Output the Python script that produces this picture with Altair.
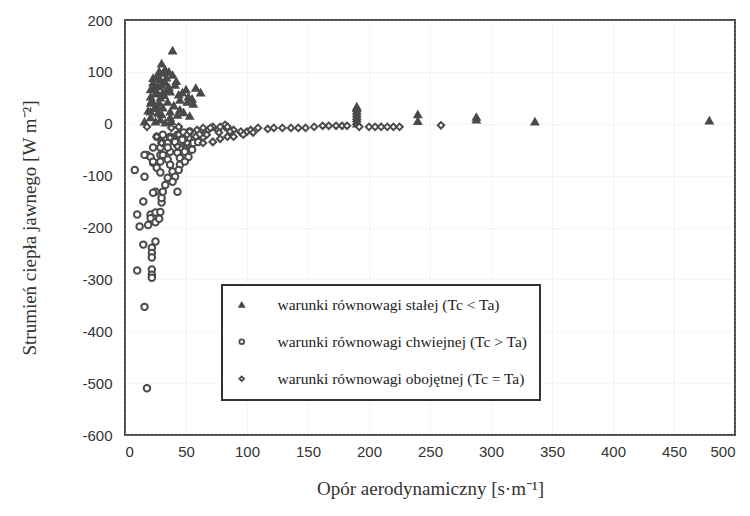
import altair as alt
import pandas as pd

# --- data (aerodynamic resistance [s/m], sensible heat flux [W/m2]) ---
stable_x = [39, 30, 28, 31, 39, 26, 29, 34, 23, 30, 41, 50, 58, 62, 21, 26, 31, 37, 44, 21,
            29, 35, 45, 51, 55, 21, 26, 31, 21, 27, 37, 45, 21, 29, 37, 43, 16, 25,
            24, 27, 33, 25, 32, 22, 28, 34, 36, 23, 33, 36, 42, 47, 52, 56, 40, 48, 53, 24, 30, 19, 33, 38,
            190, 190, 190, 190, 190, 190, 190, 190, 240, 240, 288, 288, 336, 479]
stable_y = [141, 116, 101, 98, 94, 91, 85, 89, 79, 75, 75, 66, 69, 60, 66, 62, 60, 62, 56, 52,
            50, 42, 46, 42, 48, 40, 33, 31, 23, 21, 23, 27, 12, 8, 12, 17, 4, 4,
            70, 72, 80, 58, 55, 45, 40, 65, 70, 88, 104, 100, 82, 60, 52, 38, 35, 22, 15, 30, 18, 25, 2, 5,
            0, 5, 10, 15, 20, 25, 30, 33, 18, 5, 8, 13, 4, 6]

unstable_x = [18, 29, 37, 23, 29, 8, 16, 25, 15, 30, 10, 21, 25, 29, 21, 25, 28, 12, 19, 15,
              25, 22, 22, 22, 10, 22, 22, 22, 16, 18,
              26, 31, 37, 43, 48, 53, 30, 35, 41, 47, 52, 23, 29, 35, 45, 51, 56, 60, 16, 21,
              31, 43, 49, 55, 23, 35, 45, 52, 26, 37, 45, 49, 29, 39, 44, 35, 41, 33, 39, 31,
              43, 30, 23]
unstable_y = [-60, -60, -54, -75, -73, -89, -102, -131, -150, -152, -175, -175, -171, -170, -182, -190, -183, -198, -195, -233,
              -227, -239, -249, -258, -283, -281, -291, -297, -353, -510,
              -25, -21, -25, -21, -17, -15, -35, -37, -35, -31, -27, -46, -46, -46, -46, -40, -37, -35, -60, -64,
              -60, -56, -54, -50, -73, -69, -66, -64, -85, -79, -79, -73, -94, -92, -89, -104, -102, -118, -112, -131,
              -131, -143, -133]

neutral_x = [18, 26, 30, 37, 44, 44, 51, 58, 63, 68, 76, 82, 89, 95, 100, 64, 72, 84, 51, 43,
             64, 72, 82, 67, 77, 86, 95, 103, 109, 117, 122, 129, 136, 142, 148, 162, 167, 173, 178, 182,
             64, 72, 78, 89, 97, 105, 38, 44, 53, 59, 70, 78, 84,
             155, 192, 200, 205, 210, 215, 220, 225, 259]
neutral_y = [-6, -25, -37, -27, -6, -21, -21, -25, -12, -12, -12, -6, -12, -17, -15, -27, -35, -25, -37, -44,
             -8, -6, -2, -21, -17, -15, -15, -12, -8, -10, -8, -8, -8, -8, -8, -4, -4, -4, -4, -4,
             -37, -35, -29, -25, -21, -17, -8, -6, -15, -12, -8, -6, -6,
             -6, -6, -6, -6, -6, -6, -6, -6, -3]

series_names = [
    "warunki równowagi stałej (Tc < Ta)",
    "warunki równowagi chwiejnej (Tc > Ta)",
    "warunki równowagi obojętnej (Tc = Ta)",
]

x_ticks = [0, 50, 100, 150, 200, 250, 300, 350, 400, 450, 500]
y_ticks = [-600, -500, -400, -300, -200, -100, 0, 100, 200]

rows = []
for name, xs, ys in [(series_names[0], stable_x, stable_y),
                     (series_names[1], unstable_x, unstable_y),
                     (series_names[2], neutral_x, neutral_y)]:
    for a, b in zip(xs, ys):
        rows.append({"opor": a, "strumien": b, "warunki": name})
df = pd.DataFrame(rows)

INK = "#4a4a4a"
TXT = "#333333"
LEG = alt.Legend(title=None, orient="none", legendX=97, legendY=265)
minus_expr = "datum.value < 0 ? '-' + abs(datum.value) : '' + datum.value"

chart = alt.Chart(df).mark_point(size=42, strokeWidth=2, opacity=1).encode(
    x=alt.X("opor:Q",
            scale=alt.Scale(domain=[0, 500], nice=False),
            axis=alt.Axis(values=x_ticks, title="Opór aerodynamiczny [s·m⁻¹]",
                          titlePadding=20, labelPadding=9)),
    y=alt.Y("strumien:Q",
            scale=alt.Scale(domain=[-600, 200], nice=False),
            axis=alt.Axis(values=y_ticks, title="Strumień ciepła jawnego [W m⁻²]",
                          titlePadding=42, labelPadding=13, labelExpr=minus_expr)),
    shape=alt.Shape("warunki:N",
                    scale=alt.Scale(domain=series_names, range=["triangle-up", "circle", "diamond"]),
                    legend=LEG),
    fill=alt.Fill("warunki:N",
                  scale=alt.Scale(domain=series_names, range=[INK, "white", "white"]),
                  legend=LEG),
    stroke=alt.Stroke("warunki:N",
                      scale=alt.Scale(domain=series_names, range=[INK, INK, INK]),
                      legend=LEG),
).properties(
    width=610,
    height=415,
    autosize=alt.AutoSizeParams(type="none"),
    padding={"left": 125, "top": 20, "right": 15, "bottom": 81},
).configure_view(
    stroke=INK, strokeWidth=2
).configure_axis(
    domain=False,
    ticks=False,
    grid=True,
    gridColor="#bdbdbd",
    gridDash=[1, 3],
    gridOpacity=0.55,
    labelFont="Liberation Sans",
    labelFontSize=15,
    labelColor=TXT,
    titleFont="Liberation Serif",
    titleFontSize=19,
    titleFontWeight="normal",
    titleColor=TXT,
).configure_legend(
    labelFont="Liberation Serif",
    labelFontSize=15.5,
    labelColor="#222",
    labelLimit=400,
    symbolSize=22,
    symbolStrokeWidth=1.8,
    labelOffset=28,
    rowPadding=20,
    padding=12,
    strokeColor="#333",
    strokeWidth=2,
    fillColor="white",
)

chart.save("out.html", embed_options={"renderer": "svg", "actions": False})
